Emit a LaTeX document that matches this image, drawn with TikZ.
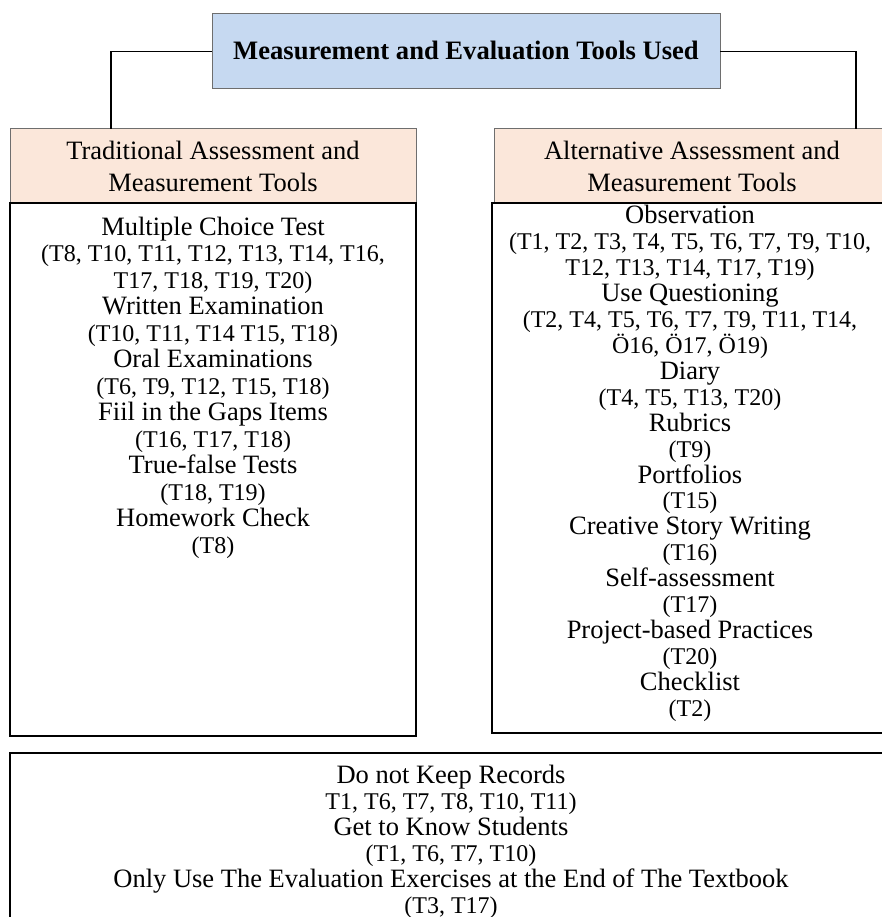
\documentclass[tikz,border=0pt]{standalone}
\usepackage{fontspec}
\setmainfont{Liberation Serif}
\definecolor{topfill}{HTML}{C6D9F1}
\definecolor{headfill}{HTML}{FBE7DA}
\definecolor{boxgray}{HTML}{6E6E6E}
\begin{document}
\begin{tikzpicture}[x=1pt,y=-1pt,
  topbox/.style={draw=boxgray,line width=1pt,fill=topfill},
  headbox/.style={draw=boxgray,line width=1pt,fill=headfill},
  bodybox/.style={draw=black,line width=1.6pt},
  conn/.style={draw=black,line width=1.4pt},
  itemtxt/.style={inner sep=0pt,anchor=base,font=\fontsize{26.5}{30}\selectfont},
  codetxt/.style={inner sep=0pt,anchor=base,font=\fontsize{24}{28}\selectfont},
  titletxt/.style={inner sep=0pt,anchor=base,font=\fontsize{26.6}{30}\selectfont\bfseries}]
\useasboundingbox (0,0) rectangle (881,917);
% boxes
\path[topbox] (212,14) rectangle (720,89);
\node[inner sep=0pt,minimum width=508pt,minimum height=75pt] (top) at (466,51.5) {};
\path[headbox] (10,129) rectangle (416,203);
\node[inner sep=0pt,minimum width=406pt,minimum height=74pt] (lhead) at (213,166) {};
\path[headbox] (494,129) rectangle (892,203);
\node[inner sep=0pt,minimum width=398pt,minimum height=74pt] (rhead) at (693,166) {};
\draw[bodybox] (10,203) rectangle (416,736);
\draw[bodybox] (492,203) rectangle (892,733);
\draw[bodybox] (10,753) rectangle (892,930);
% title and headers
\node[titletxt] (title) at (466,60) {Measurement and Evaluation Tools Used};
\node[itemtxt] (lh1) at (213,160) {Traditional Assessment and};
\node[itemtxt] (lh2) at (213,192) {Measurement Tools};
\node[itemtxt] (rh1) at (692,160) {Alternative Assessment and};
\node[itemtxt] (rh2) at (692,192) {Measurement Tools};
% connectors
\coordinate (lc) at (111,129);
\coordinate (rc) at (856,129);
\draw[conn] (top.west) -| (lc);
\draw[conn] (top.east) -| (rc);
% left body
\foreach \s/\t [count=\i from 0] in {
  itemtxt/{Multiple Choice Test},
  codetxt/{(T8, T10, T11, T12, T13, T14, T16,},
  codetxt/{T17, T18, T19, T20)},
  itemtxt/{Written Examination},
  codetxt/{(T10, T11, T14 T15, T18)},
  itemtxt/{Oral Examinations},
  codetxt/{(T6, T9, T12, T15, T18)},
  itemtxt/{Fiil in the Gaps Items},
  codetxt/{(T16, T17, T18)},
  itemtxt/{True-false Tests},
  codetxt/{(T18, T19)},
  itemtxt/{Homework Check},
  codetxt/{(T8)}}
  \node[\s] (l\i) at (213,235+26.5*\i) {\t};
% right body
\foreach \s/\t [count=\i from 0] in {
  itemtxt/{Observation},
  codetxt/{(T1, T2, T3, T4, T5, T6, T7, T9, T10,},
  codetxt/{T12, T13, T14, T17, T19)},
  itemtxt/{Use Questioning},
  codetxt/{(T2, T4, T5, T6, T7, T9, T11, T14,},
  codetxt/{Ö16, Ö17, Ö19)},
  itemtxt/{Diary},
  codetxt/{(T4, T5, T13, T20)},
  itemtxt/{Rubrics},
  codetxt/{(T9)},
  itemtxt/{Portfolios},
  codetxt/{(T15)},
  itemtxt/{Creative Story Writing},
  codetxt/{(T16)},
  itemtxt/{Self-assessment},
  codetxt/{(T17)},
  itemtxt/{Project-based Practices},
  codetxt/{(T20)},
  itemtxt/{Checklist},
  codetxt/{(T2)}}
  \node[\s] (r\i) at (690,224+25.9*\i) {\t};
% bottom
\foreach \s/\t [count=\i from 0] in {
  itemtxt/{Do not Keep Records},
  codetxt/{T1, T6, T7, T8, T10, T11)},
  itemtxt/{Get to Know Students},
  codetxt/{(T1, T6, T7, T10)},
  itemtxt/{Only Use The Evaluation Exercises at the End of The Textbook},
  codetxt/{(T3, T17)}}
  \node[\s] (b\i) at (451,783+26.1*\i) {\t};
\end{tikzpicture}
\end{document}
